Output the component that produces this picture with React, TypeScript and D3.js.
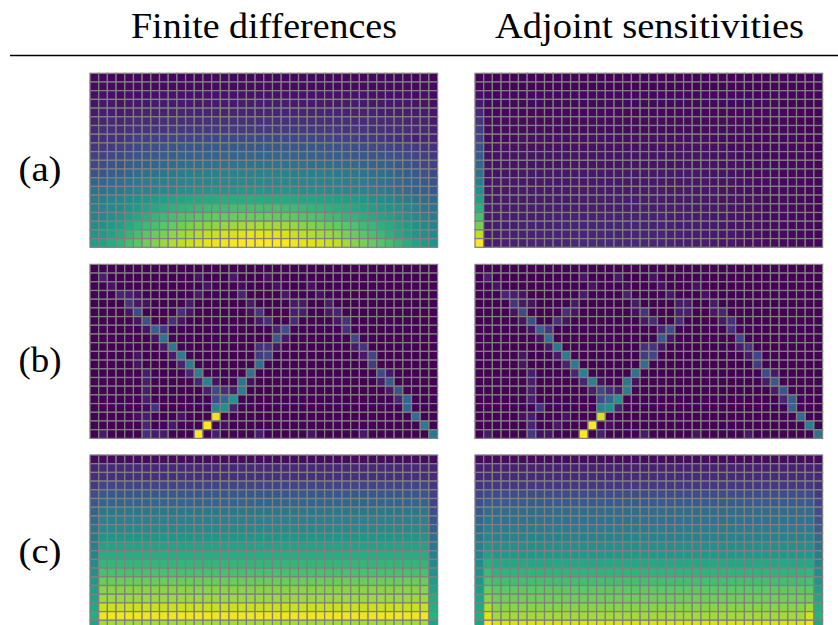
import React, { useRef, useEffect } from "react";
import * as d3 from "d3";

const width = 838;
const height = 625;

const titles = ["Finite differences", "Adjoint sensitivities"];
const rowLabels = ["(a)", "(b)", "(c)"];

// all cell values are 0-100 on the viridis scale
const aFinite = [
  [2,2,2,1,2,2,1,2,2,2,2,2,2,2,2,2,2,2,2,2,2,2,2,2,2,2,2,2,2,2,2,2,2,2,2,2,2,1,2,1],
  [3,3,3,2,3,3,3,3,3,3,3,3,3,3,3,3,3,3,3,3,3,3,3,3,3,3,3,3,3,3,3,3,3,3,3,3,3,2,3,2],
  [4,4,4,3,4,4,4,4,5,5,5,5,5,5,5,5,5,5,5,5,5,5,5,5,5,5,5,5,5,5,5,5,4,4,4,4,4,3,4,3],
  [5,6,6,5,6,6,6,7,7,7,7,7,7,7,7,7,7,8,8,8,8,8,8,7,7,7,7,7,7,7,7,7,6,6,6,6,6,5,5,4],
  [7,8,8,7,8,9,9,9,9,10,10,10,10,10,10,10,10,10,10,10,10,10,10,10,10,10,10,10,10,9,9,9,9,8,8,8,8,7,7,6],
  [9,10,11,10,11,12,12,12,13,13,13,13,13,14,14,14,14,14,14,14,14,14,14,14,14,13,13,13,13,13,12,12,12,11,11,11,10,9,9,7],
  [11,13,13,12,14,14,15,15,15,16,16,16,16,17,17,17,17,17,17,17,17,17,17,17,17,16,16,16,16,15,15,15,14,14,13,13,12,11,11,9],
  [12,13,14,14,16,18,18,19,19,20,20,20,21,21,21,22,22,22,22,22,22,22,22,21,21,21,20,20,19,19,18,17,16,15,14,13,12,8,10,9],
  [15,16,17,18,20,22,23,24,25,26,27,27,27,28,28,28,28,28,28,28,28,28,28,27,27,27,26,26,25,25,24,23,22,21,20,19,18,17,15,14],
  [18,19,21,22,24,26,27,28,29,30,31,31,32,32,32,33,33,33,33,33,33,33,33,32,32,31,31,30,30,29,28,27,26,26,25,24,22,20,18,16],
  [21,23,25,26,29,31,32,33,34,35,36,37,37,38,38,39,39,39,39,39,39,39,38,38,38,37,37,36,35,35,34,33,32,31,30,28,26,24,21,19],
  [25,26,29,30,33,35,37,38,39,41,42,43,43,44,44,45,45,45,45,45,45,45,45,44,44,43,43,42,41,41,40,38,37,36,34,32,30,28,25,22],
  [32,33,35,36,39,41,42,43,44,45,46,47,47,47,48,48,48,48,48,48,48,48,48,47,47,47,46,45,45,44,43,42,41,39,37,35,33,31,28,25],
  [38,38,40,41,43,45,46,47,48,49,50,51,52,52,53,53,53,54,54,54,53,53,53,52,51,51,50,49,48,48,47,46,44,42,40,38,35,33,30,27],
  [41,42,44,46,49,51,53,55,56,58,59,60,60,61,61,62,62,62,62,62,61,61,61,60,59,59,58,58,57,56,55,53,51,49,47,44,41,38,35,33],
  [43,45,47,49,52,55,58,60,62,64,65,66,67,68,69,69,70,70,70,70,70,70,69,68,67,66,65,64,63,62,60,58,56,54,52,50,47,44,40,38],
  [45,47,50,53,57,60,63,66,68,70,72,73,74,75,76,76,77,77,77,77,77,76,76,75,73,72,71,69,68,66,65,63,61,59,57,54,51,48,44,41],
  [49,51,54,57,61,65,68,71,74,76,78,80,81,82,83,84,85,86,87,87,86,86,85,84,82,81,79,77,76,74,72,69,67,64,61,58,55,51,47,44],
  [52,55,58,61,66,70,74,77,80,83,85,87,89,91,92,93,94,95,96,96,95,95,94,92,90,88,86,85,83,80,77,74,71,68,64,60,57,53,50,48],
  [56,58,62,65,70,74,78,81,85,88,90,92,94,96,97,98,99,100,100,100,100,100,99,98,96,95,94,92,90,86,82,79,76,73,70,66,62,58,55,52],
];

const aAdjoint = [
  [1,1,1,1,1,1,1,1,1,1,1,1,1,1,1,1,1,1,1,1,1,1,1,1,1,1,1,1,1,1,1,1,1,1,1,1,1,1,1,1],
  [2,1,1,1,1,1,1,1,1,1,1,1,1,1,1,1,1,1,1,1,1,1,1,1,1,1,1,1,1,1,1,1,1,1,1,1,1,1,1,1],
  [4,2,1,2,2,2,2,2,2,2,2,2,2,2,2,2,2,2,2,2,2,2,2,2,2,2,2,2,2,2,2,2,1,1,2,2,1,1,1,1],
  [7,2,2,2,2,2,2,2,2,2,2,2,2,2,2,2,2,2,2,2,2,2,2,2,2,2,2,2,2,2,2,2,2,2,2,1,1,1,1,1],
  [11,2,2,2,2,2,2,2,2,2,2,2,2,2,2,2,2,2,2,2,2,2,2,2,2,2,2,2,2,2,2,2,2,2,2,2,1,1,1,1],
  [15,3,3,3,3,3,3,3,3,3,3,3,3,3,3,3,3,3,3,3,3,3,3,3,3,3,3,3,3,3,3,3,2,2,2,2,1,1,1,1],
  [18,3,3,3,3,3,3,3,3,3,3,3,3,3,3,3,3,3,3,3,3,3,3,3,3,3,3,3,3,3,3,3,2,2,2,2,2,1,1,1],
  [21,3,3,3,3,4,4,4,4,4,4,4,4,4,4,4,4,4,4,4,4,4,4,4,4,4,4,3,3,3,3,3,2,2,2,2,2,1,1,1],
  [25,4,4,4,4,4,4,4,4,4,4,4,4,4,4,4,4,4,4,4,4,4,4,4,4,4,4,4,4,3,3,3,3,2,2,2,2,2,1,1],
  [29,4,4,4,5,5,5,5,5,5,5,5,5,5,5,5,5,5,5,5,5,5,5,5,5,5,5,4,4,4,3,3,3,2,2,2,2,2,2,1],
  [33,5,5,5,5,5,5,5,5,5,5,5,5,5,5,5,5,5,5,5,5,5,5,5,5,5,5,5,4,4,4,3,3,3,2,2,2,2,2,1],
  [38,5,5,5,5,6,6,6,6,6,6,6,6,6,6,6,6,6,6,6,6,6,6,6,6,6,5,5,5,4,4,3,3,3,3,2,2,2,2,1],
  [43,5,6,6,6,6,6,6,6,6,6,6,6,6,6,6,6,6,6,6,6,6,6,6,6,6,6,5,5,5,4,4,3,3,3,2,2,2,2,1],
  [50,6,6,6,6,7,7,7,7,7,7,7,7,7,7,7,7,7,7,7,7,7,7,7,7,6,6,6,5,5,4,4,3,3,3,3,2,2,2,1],
  [57,6,6,7,7,7,7,7,7,7,7,7,8,8,8,8,8,8,8,8,8,7,7,7,7,7,6,6,5,5,5,4,4,3,3,3,2,2,2,1],
  [64,7,7,7,7,7,8,8,8,8,8,8,8,8,8,8,8,8,8,8,8,8,8,8,7,7,7,6,6,5,5,4,4,3,3,3,2,2,2,1],
  [71,7,7,8,8,8,8,8,9,9,9,9,9,9,9,9,9,9,9,9,9,9,8,8,8,7,7,6,6,5,5,4,4,3,3,3,2,2,2,1],
  [79,7,8,8,8,9,9,9,9,9,10,10,10,10,10,10,10,10,10,9,9,9,9,8,8,8,7,7,6,5,5,4,4,3,3,3,2,2,2,1],
  [90,8,8,9,9,9,9,10,10,10,10,10,10,10,10,10,10,10,10,10,10,10,9,9,8,8,7,7,6,6,5,4,4,3,3,3,2,2,2,1],
  [100,8,8,9,9,9,10,10,10,10,10,11,11,11,11,11,11,11,11,11,10,10,10,9,9,8,8,7,6,6,5,4,4,3,3,3,2,2,2,1],
];

// panel (b) is mostly empty, so only the lit cells per row: [column, value]
const bFinite = [
  [],
  [[1,8],[12,5],[16,6],[20,4]],
  [[2,5],[13,5],[17,3],[21,4],[25,4]],
  [[3,10],[4,8],[5,5],[12,7],[17,9],[22,6],[26,4]],
  [[4,15],[5,6],[6,5],[11,7],[18,7],[23,7],[24,7],[27,7]],
  [[4,5],[5,22],[10,13],[11,5],[18,4],[19,15],[23,8],[24,8],[27,6],[28,10]],
  [[5,5],[6,24],[9,13],[10,5],[19,6],[20,12],[23,12],[28,6],[29,14]],
  [[6,5],[7,30],[8,15],[21,9],[22,24],[29,14]],
  [[7,5],[8,38],[21,28],[22,6],[30,20]],
  [[8,6],[9,40],[19,14],[20,15],[21,5],[30,7],[31,15]],
  [[5,5],[9,7],[10,42],[19,17],[20,20],[31,6],[32,20]],
  [[5,5],[10,9],[11,42],[19,36],[32,17]],
  [[6,8],[11,10],[12,44],[18,38],[33,22],[34,6]],
  [[6,8],[12,10],[13,45],[14,4],[17,40],[18,4],[33,7],[34,28]],
  [[6,8],[13,8],[14,22],[15,12],[16,7],[17,42],[34,7],[35,26]],
  [[6,8],[14,22],[15,33],[16,52],[35,10],[36,33]],
  [[6,3],[7,14],[14,46],[15,50],[16,9],[36,33]],
  [[5,4],[6,8],[10,5],[14,97],[37,36]],
  [[6,10],[9,6],[13,100],[15,4],[38,42]],
  [[1,7],[6,14],[7,7],[8,7],[12,100],[14,8],[19,7],[25,5],[31,6],[39,40]],
];
// where the adjoint map differs from the finite difference map: [row, column, value]
const bAdjointChanges = [[17,14,94],[19,7,4],[19,8,5],[19,6,16],[16,6,0],[15,36,30],[16,36,31],[19,39,37]];

// panel (c): the interior of a row is flat, the edge columns are read on their own
const cFiniteRows = [3,11,14,20,27,33,40,45,48,52,58,62,66,71,77,82,85,92,98,86];
const cFiniteLeft = [3,10,13,17,23,27,31,35,39,41,43,45,48,51,54,56,58,60,62,58];
const cFiniteRight = [3,10,12,15,18,20,23,27,31,36,39,43,47,50,55,58,61,63,64,58];

const cAdjointRows = [3,9,12,16,23,29,35,39,42,45,50,54,60,65,70,75,78,82,86,94];
const cAdjointLeft = [3,9,12,15,20,24,28,33,36,40,43,45,48,50,53,55,58,60,62,58];
const cAdjointRight = [3,9,11,14,17,20,23,26,30,34,38,42,45,49,52,56,59,62,64,60];
const cAdjointCol1 = [3,9,12,16,23,29,35,40,44,47,52,57,63,68,72,78,82,88,95,100];
const cAdjointCol38 = [3,9,12,16,23,29,35,39,42,45,50,54,60,66,71,75,78,85,93,97];

const nCols = 40;
const nRows = 20;

function sparseGrid(cells: number[][][], changes: number[][] = []) {
  const grid = d3.range(nRows).map(() => d3.range(nCols).map(() => 0));
  cells.forEach((row, r) => row.forEach(([c, v]) => { grid[r][c] = v; }));
  changes.forEach(([r, c, v]) => { grid[r][c] = v; });
  return grid;
}

function edgeGrid(rows: number[], left: number[], right: number[], col1?: number[], col38?: number[]) {
  return d3.range(nRows).map(r =>
    d3.range(nCols).map(c => {
      if (c === 0) return left[r];
      if (c === 39) return right[r];
      if (c === 1 && col1) return col1[r];
      if (c === 38 && col38) return col38[r];
      return rows[r];
    })
  );
}

const panels = [
  [aFinite, aAdjoint],
  [sparseGrid(bFinite), sparseGrid(bFinite, bAdjointChanges)],
  [
    edgeGrid(cFiniteRows, cFiniteLeft, cFiniteRight),
    edgeGrid(cAdjointRows, cAdjointLeft, cAdjointRight, cAdjointCol1, cAdjointCol38),
  ],
];

const panelLefts = [90, 475];
const panelTops = [73.3, 264.4, 455];
const panelW = 347.6;
const panelH = 174;

function App() {
  const svgRef = useRef<SVGSVGElement>(null);

  useEffect(() => {
    const svg = d3.select(svgRef.current);
    svg.selectAll("*").remove();

    const x = d3.scaleBand<number>().domain(d3.range(nCols)).range([0, panelW]);
    const y = d3.scaleBand<number>().domain(d3.range(nRows)).range([0, panelH]);
    const color = d3.scaleSequential(d3.interpolateViridis).domain([0, 100]);

    panels.forEach((row, i) => {
      row.forEach((grid, j) => {
        const g = svg
          .append("g")
          .attr("transform", "translate(" + panelLefts[j] + "," + panelTops[i] + ")");
        g.selectAll("g")
          .data(grid)
          .join("g")
          .attr("transform", (_, r) => "translate(0," + y(r) + ")")
          .selectAll("rect")
          .data(d => d)
          .join("rect")
          .attr("x", (_, c) => x(c) as number)
          .attr("width", x.bandwidth())
          .attr("height", y.bandwidth())
          .attr("fill", d => color(d))
          .attr("stroke", "#808080")
          .attr("stroke-width", 1.25);
      });
    });

    // column titles, stretched to the width of the typeset originals
    const titleX = [[131, 266], [495, 309]];
    titles.forEach((t, i) => {
      svg
        .append("text")
        .attr("x", titleX[i][0])
        .attr("y", 38)
        .attr("textLength", titleX[i][1])
        .attr("lengthAdjust", "spacingAndGlyphs")
        .attr("font-family", "'Liberation Serif', serif")
        .attr("font-size", 35)
        .attr("fill", "#000")
        .text(t);
    });

    svg
      .append("line")
      .attr("x1", 10)
      .attr("x2", width)
      .attr("y1", 55.5)
      .attr("y2", 55.5)
      .attr("stroke", "#000")
      .attr("stroke-width", 1.3);

    rowLabels.forEach((t, i) => {
      svg
        .append("text")
        .attr("x", 18.5)
        .attr("y", panelTops[i] + panelH / 2 + 21)
        .attr("textLength", 43)
        .attr("lengthAdjust", "spacingAndGlyphs")
        .attr("font-family", "'Liberation Serif', serif")
        .attr("font-size", 35)
        .attr("fill", "#000")
        .text(t);
    });
  }, []);

  return (
    <svg
      ref={svgRef}
      width={width}
      height={height}
      style={{ position: "absolute", left: 0, top: 0, background: "#fff" }}
    />
  );
}

export default App;
